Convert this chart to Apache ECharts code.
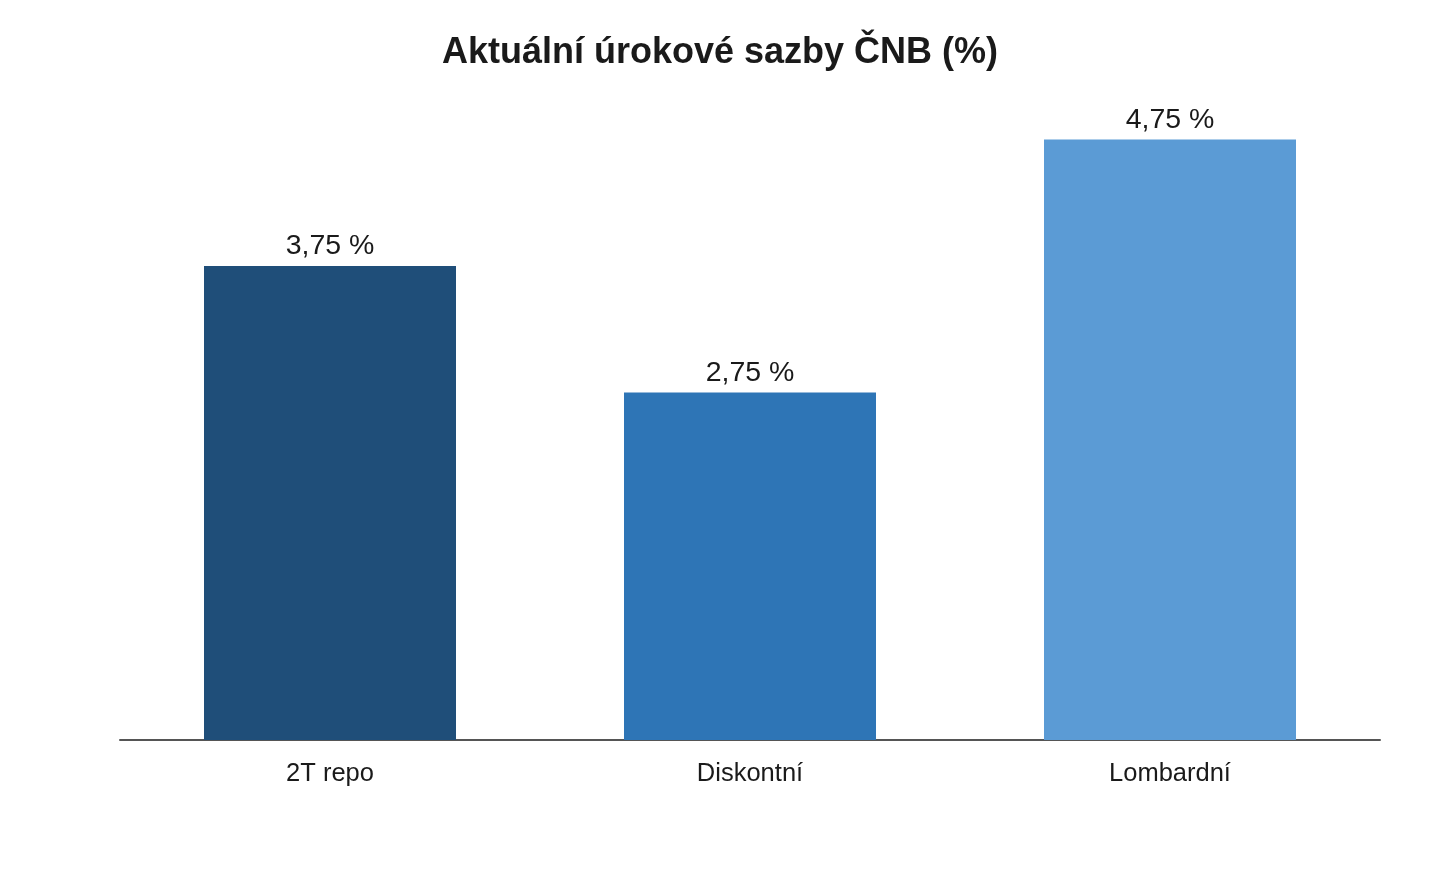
<!DOCTYPE html>
<html><head><meta charset="utf-8">
<script src="https://cdn.jsdelivr.net/npm/echarts@6/dist/echarts.min.js"></script>
<style>html,body{margin:0;padding:0;background:#fff}#c{width:1440px;height:880px}</style>
</head><body><div id="c"></div>
<script>
const categories = ["2T repo", "Diskontní", "Lombardní"];
const values = [3.75, 2.75, 4.75];
const colors = ["#1f4e79", "#2e75b6", "#5b9bd5"];
const titleText = "Aktuální úrokové sazby ČNB (%)";

const chart = echarts.init(document.getElementById('c'), null, {renderer: 'canvas'});
chart.setOption({
  animation: false,
  backgroundColor: '#ffffff',
  title: {
    text: titleText, left: 'center', top: 30,
    textStyle: {fontFamily: 'Liberation Sans', fontSize: 36, fontWeight: 'bold', color: '#1a1a1a'}
  },
  grid: {left: 120, right: 60, top: 108, bottom: 140},
  xAxis: {
    type: 'category', data: categories,
    axisLine: {show: true, lineStyle: {color: '#555555', width: 2}},
    axisTick: {show: false},
    axisLabel: {fontFamily: 'Liberation Sans', fontSize: 25.5, color: '#1a1a1a', margin: 21}
  },
  yAxis: {
    type: 'value', min: 0, max: 5, show: false,
    splitLine: {show: false}
  },
  series: [{
    type: 'bar', barWidth: '60%',
    data: values.map((v, i) => ({value: v, itemStyle: {color: colors[i]}})),
    label: {
      show: true, position: 'top', distance: 5,
      fontFamily: 'Liberation Sans', fontSize: 28.5, fontWeight: 'normal', color: '#1a1a1a',
      formatter: p => p.value.toFixed(2).replace('.', ',') + ' %'
    }
  }]
});
</script></body></html>
